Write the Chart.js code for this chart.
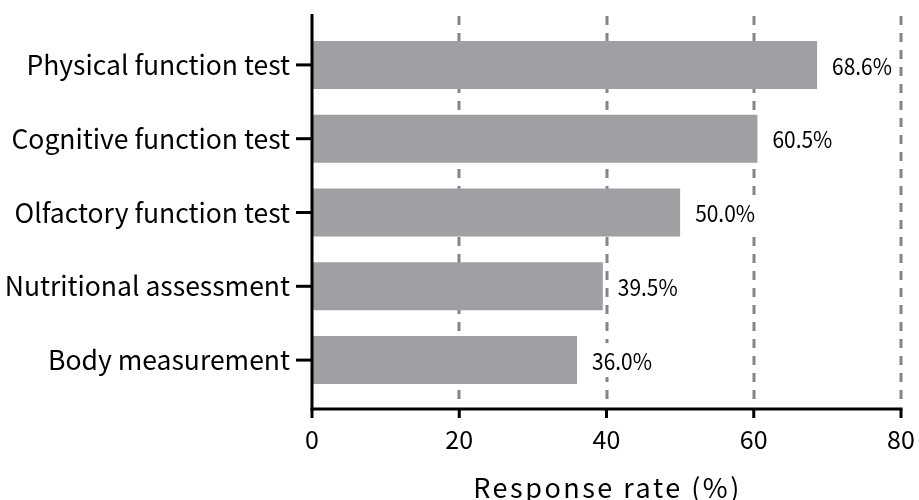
<!DOCTYPE html>
<html><head><meta charset="utf-8">
<script src="https://cdn.jsdelivr.net/npm/chart.js@4.4.0/dist/chart.umd.min.js"></script>
<style>html,body{margin:0;padding:0;background:#fff;}#wrap{width:919px;height:500px;}</style>
</head><body><div id="wrap"><canvas id="c" width="919" height="500"></canvas></div>
<script>
const categories = ["Physical function test","Cognitive function test","Olfactory function test","Nutritional assessment","Body measurement"];
const values = [68.6, 60.5, 50.0, 39.5, 36.0];
const xTicks = [0, 20, 40, 60, 80];
const axisTitle = "Response rate (%)";
const FONT = "'Noto Sans CJK JP', 'Noto Sans', sans-serif";

const EXT_TOP = 14, EXT_BOTTOM = 12;

const axesPlugin = {
  id: 'axesPlugin',
  beforeDatasetsDraw(chart) {
    const {ctx, chartArea: a, scales: {x}} = chart;
    ctx.save();
    ctx.strokeStyle = '#858585';
    ctx.lineWidth = 3;
    ctx.setLineDash([9, 8]);
    xTicks.slice(1).forEach(v => {
      const px = Math.round(x.getPixelForValue(v));
      ctx.beginPath();
      ctx.moveTo(px, a.top - EXT_TOP + 2);
      ctx.lineTo(px, a.bottom + EXT_BOTTOM - 2);
      ctx.stroke();
    });
    ctx.restore();
  },
  afterDatasetsDraw(chart) {
    const {ctx, chartArea: a, scales: {x, y}} = chart;
    ctx.save();
    ctx.strokeStyle = '#000';
    ctx.lineWidth = 3;
    ctx.setLineDash([]);
    const x0 = x.getPixelForValue(0);
    const yb = a.bottom + EXT_BOTTOM;
    ctx.beginPath();
    ctx.moveTo(x0, a.top - EXT_TOP);
    ctx.lineTo(x0, yb + 1.5);
    ctx.stroke();
    ctx.beginPath();
    ctx.moveTo(x0 - 1.5, yb);
    ctx.lineTo(x.getPixelForValue(80) + 1.5, yb);
    ctx.stroke();
    xTicks.forEach(v => {
      const px = x.getPixelForValue(v);
      ctx.beginPath();
      ctx.moveTo(px, yb);
      ctx.lineTo(px, yb + 9);
      ctx.stroke();
    });
    categories.forEach((c, i) => {
      const py = y.getPixelForValue(i);
      ctx.beginPath();
      ctx.moveTo(x0 - 16, py);
      ctx.lineTo(x0, py);
      ctx.stroke();
    });
    // value labels (slightly condensed) on white boxes
    const meta = chart.getDatasetMeta(0);
    const SX = 0.91;
    ctx.font = "23px " + FONT;
    ctx.textBaseline = 'middle';
    ctx.textAlign = 'left';
    meta.data.forEach((bar, i) => {
      const txt = values[i].toFixed(1) + '%';
      const w = ctx.measureText(txt).width * SX;
      ctx.fillStyle = '#fff';
      ctx.fillRect(bar.x + 11, bar.y - 17, w + 8, 34);
      ctx.save();
      ctx.fillStyle = '#000';
      ctx.translate(bar.x + 15, bar.y + 1);
      ctx.scale(SX, 1);
      ctx.fillText(txt, 0, 0);
      ctx.restore();
    });
    // axis title with letter spacing
    ctx.fillStyle = '#000';
    ctx.font = "27px " + FONT;
    ctx.textAlign = 'center';
    ctx.letterSpacing = '2.5px';
    ctx.fillText(axisTitle, (x.left + x.right) / 2 + 1, 488);
    ctx.restore();
  }
};

new Chart(document.getElementById('c'), {
  type: 'bar',
  data: {
    labels: categories,
    datasets: [{ data: values, backgroundColor: '#a09fa4', borderWidth: 0, barPercentage: 0.65, categoryPercentage: 1.0 }]
  },
  options: {
    indexAxis: 'y',
    responsive: false,
    animation: false,
    events: [],
    layout: { padding: { top: 28, right: 18, left: 0, bottom: 0 } },
    plugins: { legend: { display: false }, tooltip: { enabled: false } },
    scales: {
      x: {
        type: 'linear', min: 0, max: 80,
        afterBuildTicks(s) { s.ticks = xTicks.map(v => ({value: v})); },
        afterFit(s) { s.height = 103; s.paddingLeft = 0; s.paddingRight = 0; },
        grid: { display: false, drawTicks: false },
        border: { display: false },
        ticks: { color: '#000', font: { family: FONT, size: 25 }, padding: 27 }
      },
      y: {
        afterFit(s) { s.width = 312; s.paddingTop = 0; s.paddingBottom = 0; },
        grid: { display: false, drawTicks: false },
        border: { display: false },
        ticks: { color: '#000', font: { family: FONT, size: 26.5 }, padding: 22 }
      }
    }
  },
  plugins: [axesPlugin]
});
</script></body></html>
